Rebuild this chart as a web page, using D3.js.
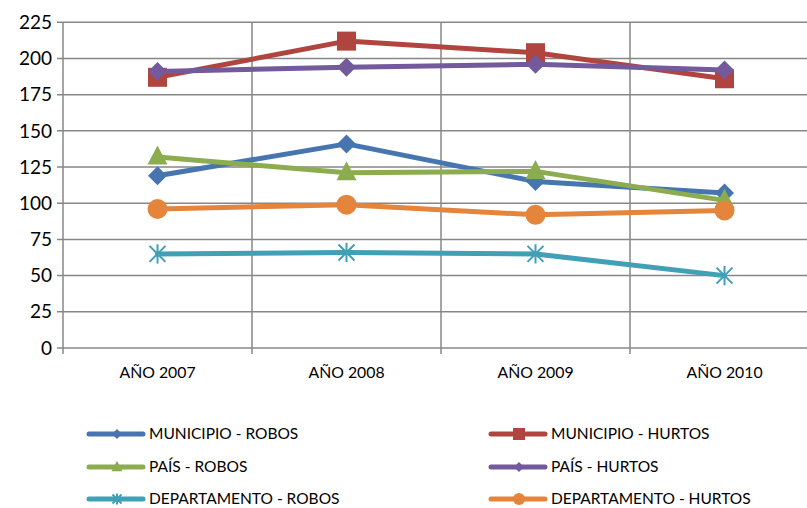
<!DOCTYPE html>
<html><head><meta charset="utf-8">
<script src="https://cdn.jsdelivr.net/npm/d3@7"></script>
<style>body{margin:0;background:#fff}svg{display:block}</style>
</head><body>
<svg id="c" width="807" height="508"></svg>
<script>
const categories = ["AÑO 2007","AÑO 2008","AÑO 2009","AÑO 2010"];
const yTicks = [0,25,50,75,100,125,150,175,200,225];
const seriesNames = ["MUNICIPIO - ROBOS","MUNICIPIO - HURTOS","PAÍS - ROBOS","PAÍS - HURTOS","DEPARTAMENTO - ROBOS","DEPARTAMENTO - HURTOS"];
const municipioRobos = [119,141,115,107];
const municipioHurtos = [187,212,204,186];
const paisRobos = [132,121,122,102];
const paisHurtos = [191,194,196,192];
const deptoRobos = [65,66,65,50];
const deptoHurtos = [96,99,92,95];
const colors = ["#4675b0","#b0443f","#8cad4f","#735a9c","#419fb6","#e5843b"];
const markers = ["diamond","square","triangle","diamond","star","circle"];

const values = [municipioRobos,municipioHurtos,paisRobos,paisHurtos,deptoRobos,deptoHurtos];
const svg = d3.select("#c");
const L=63, R=819, T=22.3, B=348;
const x = d3.scaleBand().domain(categories).range([L,R]);
const y = d3.scaleLinear().domain([0,225]).range([B,T]);
const grid="#878787";
const font="Lato, 'Open Sans', sans-serif";

svg.append("g").selectAll("line").data(yTicks).join("line")
  .attr("x1",L-6).attr("x2",R).attr("y1",d=>y(d)).attr("y2",d=>y(d))
  .attr("stroke",grid).attr("stroke-width",1.5);
svg.append("g").selectAll("line").data(categories).join("line")
  .attr("x1",d=>x(d)).attr("x2",d=>x(d)).attr("y1",T).attr("y2",B+6)
  .attr("stroke",grid).attr("stroke-width",1.5);
svg.append("line").attr("x1",R).attr("x2",R).attr("y1",T).attr("y2",B+6).attr("stroke",grid).attr("stroke-width",1.5);

svg.append("g").selectAll("text").data(yTicks).join("text")
  .attr("x",L-11).attr("y",d=>y(d)).attr("dy","0.35em").attr("text-anchor","end")
  .attr("font-family",font).attr("font-size",19).attr("fill","#000").text(d=>d);
svg.append("g").selectAll("text").data(categories).join("text")
  .attr("x",d=>x(d)+x.bandwidth()/2).attr("y",378).attr("text-anchor","middle")
  .attr("font-family",font).attr("font-size",15.8).attr("fill","#000").text(d=>d);

function marker(g, type, cx, cy, color, s){
  if(type==="diamond"){
    g.append("path").attr("d",`M${cx},${cy-s}L${cx+s},${cy}L${cx},${cy+s}L${cx-s},${cy}Z`).attr("fill",color);
  } else if(type==="square"){
    g.append("rect").attr("x",cx-s).attr("y",cy-s).attr("width",2*s).attr("height",2*s).attr("fill",color);
  } else if(type==="triangle"){
    g.append("path").attr("d",`M${cx},${cy-s*1.15}L${cx+s},${cy+s*0.75}L${cx-s},${cy+s*0.75}Z`).attr("fill",color);
  } else if(type==="circle"){
    g.append("circle").attr("cx",cx).attr("cy",cy).attr("r",s).attr("fill",color);
  } else if(type==="star"){
    const p=`M${cx-s},${cy-s}L${cx+s},${cy+s}M${cx-s},${cy+s}L${cx+s},${cy-s}M${cx},${cy-s*1.2}L${cx},${cy+s*1.2}`;
    g.append("path").attr("d",p).attr("stroke",color).attr("stroke-width",2).attr("fill","none");
  }
}
const sizes={diamond:9.5,square:9.5,triangle:10,circle:10,star:8};

const line = d3.line().x((d,i)=>x(categories[i])+x.bandwidth()/2).y(d=>y(d));
values.forEach((vals,si)=>{
  const g=svg.append("g");
  g.append("path").datum(vals).attr("d",line).attr("fill","none")
    .attr("stroke",colors[si]).attr("stroke-width",5).attr("stroke-linejoin","round").attr("stroke-linecap","round");
  vals.forEach((v,i)=>marker(g,markers[si],x(categories[i])+x.bandwidth()/2,y(v),colors[si],sizes[markers[si]]));
});

const legX=[89,491], legY=[434,467,499];
seriesNames.forEach((name,i)=>{
  const col=i%2, row=Math.floor(i/2);
  const g=svg.append("g");
  const x0=legX[col], yy=legY[row];
  g.append("line").attr("x1",x0).attr("x2",x0+54).attr("y1",yy).attr("y2",yy)
    .attr("stroke",colors[i]).attr("stroke-width",5).attr("stroke-linecap","round");
  const ls={diamond:5,square:6,triangle:5.5,circle:6,star:4.5};
  marker(g,markers[i],x0+28,yy,colors[i],ls[markers[i]]);
  g.append("text").attr("x",x0+60).attr("y",yy).attr("dy","0.35em")
    .attr("font-family",font).attr("font-size",15.5).attr("fill","#000").text(name);
});
</script>
</body></html>
